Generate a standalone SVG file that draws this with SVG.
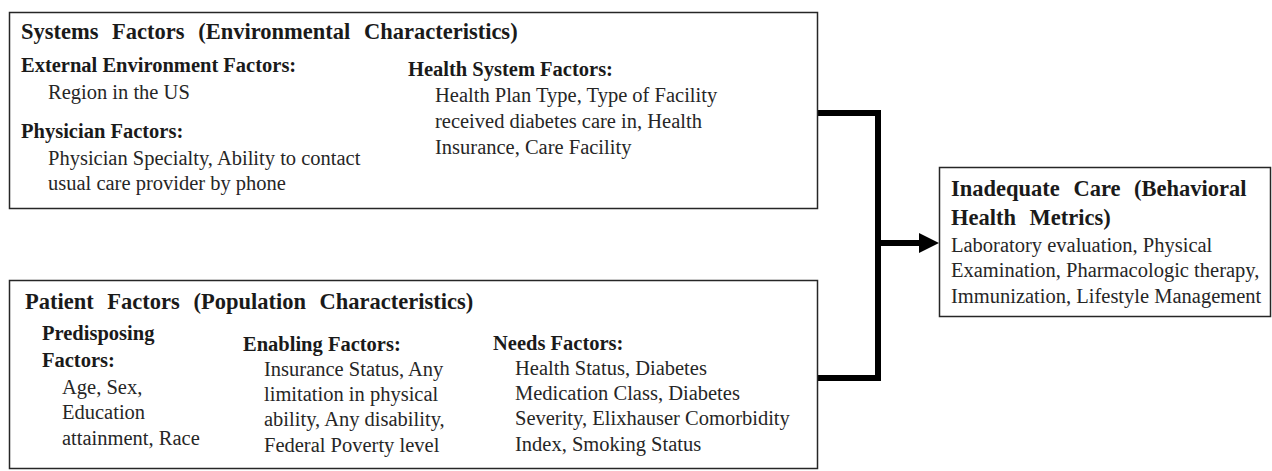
<svg xmlns="http://www.w3.org/2000/svg" width="1272" height="471" viewBox="0 0 1272 471">
  <style>
    .box { fill: #ffffff; stroke: #262626; stroke-width: 1.5; }
    text { font-family: "Liberation Serif", "Times New Roman", serif; fill: #1a1a1a; }
    .title { font-size: 22.5px; font-weight: bold; word-spacing: 8px; }
    .head { font-size: 20.5px; font-weight: bold; }
    .body { font-size: 20.5px; fill: #262626; }
    .conn { fill: none; stroke: #000000; stroke-width: 6; stroke-linejoin: miter; }
  </style>
  <rect width="1272" height="471" fill="#ffffff"/>

  <g id="connectors">
    <path class="conn" d="M818,113 H878 V378 H818"/>
    <path class="conn" d="M878,243 H920"/>
    <path d="M919,233 L939,243 L919,253 Z" fill="#000000"/>
  </g>

  <g id="systems-factors">
    <rect class="box" x="9.5" y="12.5" width="808" height="196"/>
    <text class="title" x="21" y="39">Systems Factors (Environmental Characteristics)</text>
    <text class="head" x="21" y="72">External Environment Factors:</text>
    <text class="body" x="48" y="99">Region in the US</text>
    <text class="head" x="21" y="138">Physician Factors:</text>
    <text class="body" x="48" y="165">Physician Specialty, Ability to contact</text>
    <text class="body" x="48" y="190">usual care provider by phone</text>
    <text class="head" x="408" y="76">Health System Factors:</text>
    <text class="body" x="435" y="102">Health Plan Type, Type of Facility</text>
    <text class="body" x="435" y="128">received diabetes care in, Health</text>
    <text class="body" x="435" y="154">Insurance, Care Facility</text>
  </g>

  <g id="patient-factors">
    <rect class="box" x="9.5" y="280.5" width="808" height="188"/>
    <text class="title" x="25" y="309">Patient Factors (Population Characteristics)</text>
    <text class="head" x="42" y="340">Predisposing</text>
    <text class="head" x="42" y="367">Factors:</text>
    <text class="body" x="62" y="394">Age, Sex,</text>
    <text class="body" x="62" y="419">Education</text>
    <text class="body" x="62" y="445">attainment, Race</text>
    <text class="head" x="243" y="351">Enabling Factors:</text>
    <text class="body" x="264" y="376">Insurance Status, Any</text>
    <text class="body" x="264" y="401">limitation in physical</text>
    <text class="body" x="264" y="426">ability, Any disability,</text>
    <text class="body" x="264" y="452">Federal Poverty level</text>
    <text class="head" x="493" y="350">Needs Factors:</text>
    <text class="body" x="515" y="375">Health Status, Diabetes</text>
    <text class="body" x="515" y="400">Medication Class, Diabetes</text>
    <text class="body" x="515" y="425">Severity, Elixhauser Comorbidity</text>
    <text class="body" x="515" y="451">Index, Smoking Status</text>
  </g>

  <g id="inadequate-care">
    <rect class="box" x="939.5" y="167.5" width="331" height="149"/>
    <text class="title" x="951" y="196">Inadequate Care (Behavioral</text>
    <text class="title" x="951" y="225">Health Metrics)</text>
    <text class="body" x="951" y="252">Laboratory evaluation, Physical</text>
    <text class="body" x="951" y="277">Examination, Pharmacologic therapy,</text>
    <text class="body" x="951" y="303">Immunization, Lifestyle Management</text>
  </g>
</svg>
